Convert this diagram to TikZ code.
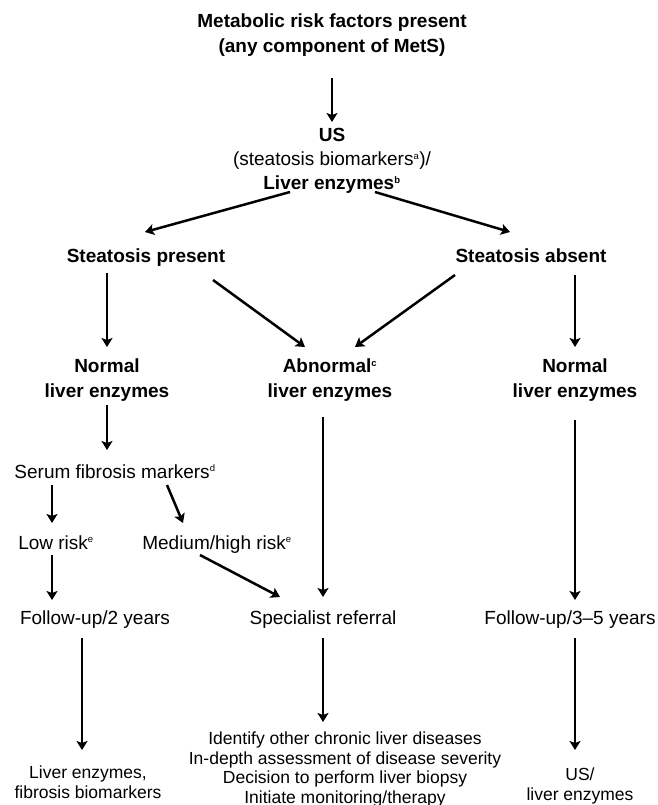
\documentclass[tikz,border=0pt]{standalone}
\usepackage{fontspec}
\setmainfont{Liberation Sans}
\usetikzlibrary{arrows.meta}

\newcommand{\fnmark}[1]{\textsuperscript{\fontsize{9.5}{9.5}\selectfont #1}}

\tikzset{
  boldtext/.style={font=\fontsize{19}{25}\selectfont\bfseries, align=center, inner sep=0pt},
  bodytext/.style={font=\fontsize{19}{24}\selectfont, align=center, inner sep=0pt},
  notetext/.style={font=\fontsize{17.5}{19.5}\selectfont, align=center, inner sep=0pt},
  oneline/.style={text height=14pt, text depth=4pt},
  arr/.style={->, line width=2.5pt}
}

\begin{document}
\begin{tikzpicture}[x=1pt, y=-1pt, >={Stealth[length=9pt,width=11pt,inset=2pt]}]
    \useasboundingbox (0,0) rectangle (657,805);
    \clip (0,0) rectangle (657,805);

    \node[boldtext] (risk) at (332,35.5) {Metabolic risk factors present\\(any component of MetS)};
    \node[bodytext] (us) at (332,161) {\textbf{US}\\(steatosis biomarkers\fnmark{a})/\\\textbf{Liver enzymes\fnmark{b}}};

    \node[boldtext, oneline] (present) at (146,257) {Steatosis present};
    \node[boldtext, oneline] (absent) at (531,257) {Steatosis absent};

    \node[boldtext] (normL) at (107,380) {Normal\\liver enzymes};
    \node[boldtext] (abnorm) at (330,380) {Abnormal\fnmark{c}\\liver enzymes};
    \node[boldtext] (normR) at (575,380) {Normal\\liver enzymes};

    \node[bodytext, oneline] (serum) at (115,473) {Serum fibrosis markers\fnmark{d}};
    \node[bodytext, oneline] (low) at (56,544) {Low risk\fnmark{e}};
    \node[bodytext, oneline] (high) at (217,544) {Medium/high risk\fnmark{e}};

    \node[bodytext, oneline] (fup2) at (95,619) {Follow-up/2 years};
    \node[bodytext, oneline] (refer) at (323,619) {Specialist referral};
    \node[bodytext, oneline] (fup35) at (570,619) {Follow-up/3--5 years};

    \node[notetext] (recheckL) at (88,782) {Liver enzymes,\\fibrosis biomarkers};
    \node[notetext] (tasks) at (345,769.5) {Identify other chronic liver diseases\\In-depth assessment of disease severity\\Decision to perform liver biopsy\\Initiate monitoring/therapy};
    \node[notetext] (recheckR) at (580,786) {US/\\liver enzymes};

    % top part
    \draw[arr] ([shift={(0,42.5)}]risk.center) -- ([shift={(0,-39)}]us.center);
    \draw[arr] ([shift={(-42,31)}]us.center) -- ([shift={(-1,-25)}]present.center);
    \draw[arr] ([shift={(43,31)}]us.center) -- ([shift={(-21,-25)}]absent.center);

    \draw[arr] ([shift={(-39,16)}]present.center) -- ([shift={(0,-33)}]normL.center);
    \draw[arr] ([shift={(67,23)}]present.center) -- ([shift={(-25,-33)}]abnorm.center);
    \draw[arr] ([shift={(-76,18)}]absent.center) -- ([shift={(25,-33)}]abnorm.center);
    \draw[arr] ([shift={(44,18)}]absent.center) -- ([shift={(0,-33)}]normR.center);

    % left branch
    \draw[arr] ([shift={(0,25)}]normL.center) -- ([shift={(-8,-23)}]serum.center);
    \draw[arr] ([shift={(-63,12)}]serum.center) -- ([shift={(-4,-21)}]low.center);
    \draw[arr] ([shift={(52,12)}]serum.center) -- ([shift={(-34,-21)}]high.center);
    \draw[arr] ([shift={(-4,11)}]low.center) -- ([shift={(-43,-19)}]fup2.center);
    \draw[arr] ([shift={(-17,11)}]high.center) -- ([shift={(-43,-22)}]refer.center);

    % middle and right
    \draw[arr] ([shift={(-7,37)}]abnorm.center) -- ([shift={(0,-22)}]refer.center);
    \draw[arr] ([shift={(0,40)}]normR.center) -- ([shift={(5,-19)}]fup35.center);

    % bottom row
    \draw[arr] ([shift={(-13,19)}]fup2.center) -- ([shift={(-6,-32)}]recheckL.center);
    \draw[arr] ([shift={(0,19)}]refer.center) -- ([shift={(-22,-47.5)}]tasks.center);
    \draw[arr] ([shift={(5,19)}]fup35.center) -- ([shift={(-5,-36)}]recheckR.center);
\end{tikzpicture}
\end{document}
